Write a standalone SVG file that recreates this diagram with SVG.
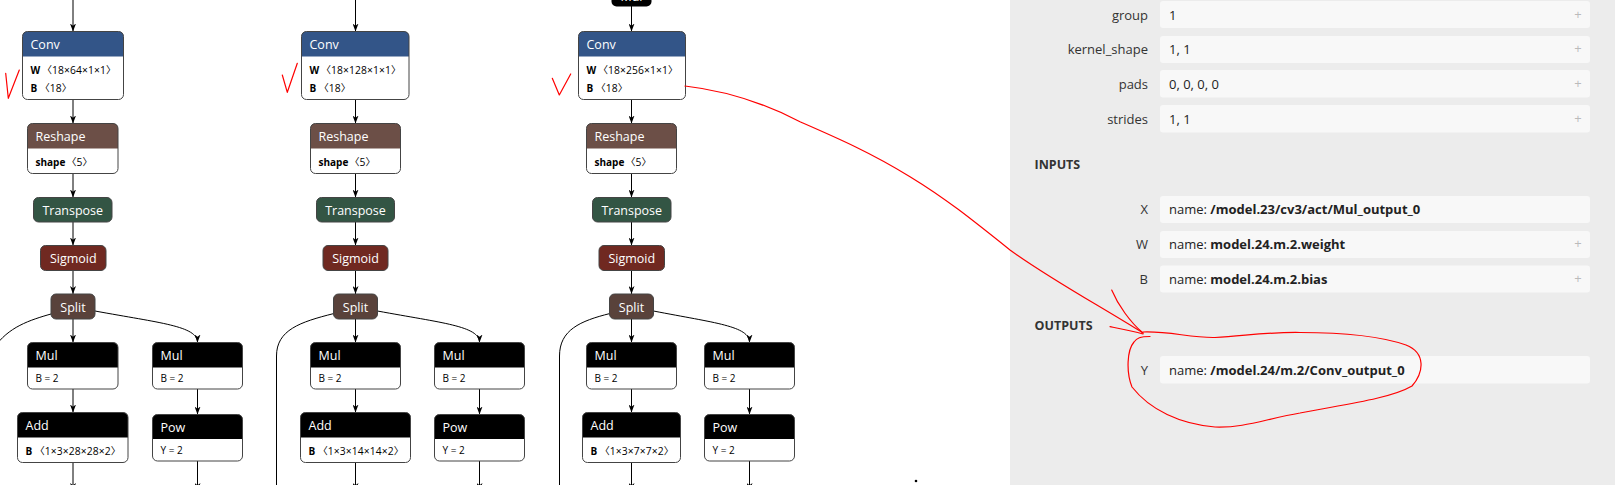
<svg xmlns="http://www.w3.org/2000/svg" width="1615" height="485" viewBox="0 0 1615 485">
<style>
text{font-family:"Open Sans","Noto Sans CJK SC",sans-serif}
.bg{fill:#fff}
.outline{fill:none;stroke:#444;stroke-width:1}
.body{fill:#fff}
.ht{fill:#fff;font-size:12.5px}
.at{fill:#000;font-size:10px}
.an{fill:#000;font-size:10px;font-weight:bold}
.dg{fill:#000;font-size:10.3px}
.br{fill:#000;font-size:10px;font-family:"Noto Sans CJK SC","Noto Sans CJK JP",sans-serif}
.edge{fill:none;stroke:#000;stroke-width:1;marker-end:url(#arr)}
.conv{fill:#335588}
.reshape{fill:#6c4f47}
.transpose{fill:#335544}
.sigmoid{fill:#702921}
.split{fill:#59423b}
.blk{fill:#000}
.panel{fill:#ececec}
.row{fill:#f8f8f8}
.lbl{fill:#333;font-size:13px;text-anchor:end}
.val{fill:#222;font-size:13px}
.val tspan.b{font-weight:bold}
.plus{fill:#bbb;font-size:13px;text-anchor:middle}
.sec{fill:#333;font-size:12.5px;font-weight:bold}
.red{fill:none;stroke:#f00;stroke-width:1.2;stroke-linejoin:round;stroke-linecap:round}
</style>
<defs>
<marker id="arr" viewBox="0 0 8 6" refX="8" refY="3" markerWidth="8" markerHeight="6" markerUnits="userSpaceOnUse" orient="auto">
<path d="M0,0 L8,3 L0,6 L2.2,3 Z" fill="#000"/>
</marker>
</defs>
<rect class="bg" x="0" y="0" width="1615" height="485"/>

<!-- connectors -->
<g id="connectors">
<path class="edge" d="M73,0 V31.5"/>
<path class="edge" d="M73,99.5 V123.5"/>
<path class="edge" d="M73,173.5 V197.5"/>
<path class="edge" d="M73,222 V245.5"/>
<path class="edge" d="M73,270.5 V294"/>
<path class="edge" d="M73,319 V342.5"/>
<path class="edge" d="M73,389 V412.5"/>
<path class="edge" d="M73,462.5 V491"/>
<path class="edge" d="M95,311 C160,323 197.5,326 197.5,342.5"/>
<path class="edge" d="M197.5,389 V414.5"/>
<path class="edge" d="M197.5,461 V491"/>
<path class="edge" style="marker-end:none" d="M51,314 C30,320 8,327 -6,348"/>
<path class="edge" d="M355.5,0 V31.5"/>
<path class="edge" d="M355.5,99.5 V123.5"/>
<path class="edge" d="M355.5,173.5 V197.5"/>
<path class="edge" d="M355.5,222 V245.5"/>
<path class="edge" d="M355.5,270.5 V294"/>
<path class="edge" d="M355.5,319 V342.5"/>
<path class="edge" d="M355.5,389 V412.5"/>
<path class="edge" d="M355.5,462.5 V491"/>
<path class="edge" d="M377.5,311 C442,323 479.5,326 479.5,342.5"/>
<path class="edge" d="M479.5,389 V414.5"/>
<path class="edge" d="M479.5,461 V491"/>
<path class="edge" style="marker-end:none" d="M334,313.5 C300,322 276.5,330 276.5,356 V490"/>
<path class="edge" d="M631.5,6 V31.5"/>
<path class="edge" d="M631.5,99.5 V123.5"/>
<path class="edge" d="M631.5,173.5 V197.5"/>
<path class="edge" d="M631.5,222 V245.5"/>
<path class="edge" d="M631.5,270.5 V294"/>
<path class="edge" d="M631.5,319 V342.5"/>
<path class="edge" d="M631.5,389 V412.5"/>
<path class="edge" d="M631.5,462.5 V491"/>
<path class="edge" d="M653.5,311 C715,323 749.5,326 749.5,342.5"/>
<path class="edge" d="M749.5,389 V414.5"/>
<path class="edge" d="M749.5,461 V491"/>
<path class="edge" style="marker-end:none" d="M610,313.5 C580,321 559.5,330 559.5,356 V490"/>
</g>

<!-- column 1 nodes -->
<g id="conv1">
<rect class="body" x="22.5" y="31.5" width="101" height="68" rx="5"/>
<path class="conv" d="M22.5,56.5 V36.5 Q22.5,31.5 27.5,31.5 H118.5 Q123.5,31.5 123.5,36.5 V56.5 Z"/>
<rect class="outline" x="22.5" y="31.5" width="101" height="68" rx="5"/>
<text class="ht" x="30.5" y="48.5">Conv</text>
<text class="an" x="30.5" y="73.5">W</text>
<text class="br" x="42" y="73.5">〈</text>
<text class="dg" x="52" y="73.5" textLength="54" lengthAdjust="spacing">18×64×1×1</text>
<text class="br" x="106" y="73.5">〉</text>
<text class="an" x="30.5" y="91.5">B</text>
<text class="br" x="39.7" y="91.5">〈</text>
<text class="dg" x="49.7" y="91.5" textLength="12" lengthAdjust="spacing">18</text>
<text class="br" x="61.7" y="91.5">〉</text>
</g>
<g id="reshape1">
<rect class="body" x="27.5" y="123.5" width="90.5" height="50" rx="5"/>
<path class="reshape" d="M27.5,148.5 V128.5 Q27.5,123.5 32.5,123.5 H113 Q118,123.5 118,128.5 V148.5 Z"/>
<rect class="outline" x="27.5" y="123.5" width="90.5" height="50" rx="5"/>
<text class="ht" x="35.5" y="140.5">Reshape</text>
<text class="an" x="35.5" y="166">shape</text>
<text class="br" x="66.5" y="166">〈</text>
<text class="dg" x="76.5" y="166">5</text>
<text class="br" x="82.5" y="166">〉</text>
</g>
<g id="transpose1">
<rect class="transpose" x="33.5" y="197.5" width="78.5" height="24.5" rx="5"/>
<rect class="outline" x="33.5" y="197.5" width="78.5" height="24.5" rx="5"/>
<text class="ht" x="72.75" y="214.5" text-anchor="middle">Transpose</text>
</g>
<g id="sigmoid1">
<rect class="sigmoid" x="40.5" y="245.5" width="65.5" height="25" rx="5"/>
<rect class="outline" x="40.5" y="245.5" width="65.5" height="25" rx="5"/>
<text class="ht" x="73.25" y="262.5" text-anchor="middle">Sigmoid</text>
</g>
<g id="split1">
<rect class="split" x="51" y="294" width="44" height="25" rx="5"/>
<rect class="outline" x="51" y="294" width="44" height="25" rx="5"/>
<text class="ht" x="73" y="311.5" text-anchor="middle">Split</text>
</g>
<g id="mul1a">
<rect class="body" x="27.5" y="342.5" width="90.5" height="46.5" rx="5"/>
<path class="blk" d="M27.5,367.5 V347.5 Q27.5,342.5 32.5,342.5 H113 Q118,342.5 118,347.5 V367.5 Z"/>
<rect class="outline" x="27.5" y="342.5" width="90.5" height="46.5" rx="5"/>
<text class="ht" x="35.5" y="360">Mul</text>
<text class="at" x="35.5" y="381.5">B = 2</text>
</g>
<g id="mul1b">
<rect class="body" x="152.5" y="342.5" width="90" height="46.5" rx="5"/>
<path class="blk" d="M152.5,367.5 V347.5 Q152.5,342.5 157.5,342.5 H237.5 Q242.5,342.5 242.5,347.5 V367.5 Z"/>
<rect class="outline" x="152.5" y="342.5" width="90" height="46.5" rx="5"/>
<text class="ht" x="160.5" y="360">Mul</text>
<text class="at" x="160.5" y="381.5">B = 2</text>
</g>
<g id="add1">
<rect class="body" x="17.5" y="412.5" width="110.5" height="50" rx="5"/>
<path class="blk" d="M17.5,437.5 V417.5 Q17.5,412.5 22.5,412.5 H123 Q128,412.5 128,417.5 V437.5 Z"/>
<rect class="outline" x="17.5" y="412.5" width="110.5" height="50" rx="5"/>
<text class="ht" x="25.5" y="429.5">Add</text>
<text class="an" x="25.5" y="454.5">B</text>
<text class="br" x="34.7" y="454.5">〈</text>
<text class="dg" x="44.7" y="454.5" textLength="66" lengthAdjust="spacing">1×3×28×28×2</text>
<text class="br" x="110.7" y="454.5">〉</text>
</g>
<g id="pow1">
<rect class="body" x="152.5" y="414.5" width="90" height="46.5" rx="5"/>
<path class="blk" d="M152.5,439 V419.5 Q152.5,414.5 157.5,414.5 H237.5 Q242.5,414.5 242.5,419.5 V439 Z"/>
<rect class="outline" x="152.5" y="414.5" width="90" height="46.5" rx="5"/>
<text class="ht" x="160.5" y="431.5">Pow</text>
<text class="at" x="160.5" y="453.5">Y = 2</text>
</g>

<!-- column 2 nodes -->
<g id="conv2">
<rect class="body" x="301.5" y="31.5" width="107.5" height="68" rx="5"/>
<path class="conv" d="M301.5,56.5 V36.5 Q301.5,31.5 306.5,31.5 H404 Q409,31.5 409,36.5 V56.5 Z"/>
<rect class="outline" x="301.5" y="31.5" width="107.5" height="68" rx="5"/>
<text class="ht" x="309.5" y="48.5">Conv</text>
<text class="an" x="309.5" y="73.5">W</text>
<text class="br" x="321" y="73.5">〈</text>
<text class="dg" x="331" y="73.5" textLength="60" lengthAdjust="spacing">18×128×1×1</text>
<text class="br" x="391" y="73.5">〉</text>
<text class="an" x="309.5" y="91.5">B</text>
<text class="br" x="318.7" y="91.5">〈</text>
<text class="dg" x="328.7" y="91.5" textLength="12" lengthAdjust="spacing">18</text>
<text class="br" x="340.7" y="91.5">〉</text>
</g>
<g id="reshape2">
<rect class="body" x="310.5" y="123.5" width="90" height="50" rx="5"/>
<path class="reshape" d="M310.5,148.5 V128.5 Q310.5,123.5 315.5,123.5 H395.5 Q400.5,123.5 400.5,128.5 V148.5 Z"/>
<rect class="outline" x="310.5" y="123.5" width="90" height="50" rx="5"/>
<text class="ht" x="318.5" y="140.5">Reshape</text>
<text class="an" x="318.5" y="166">shape</text>
<text class="br" x="349.5" y="166">〈</text>
<text class="dg" x="359.5" y="166">5</text>
<text class="br" x="365.5" y="166">〉</text>
</g>
<g id="transpose2">
<rect class="transpose" x="316.5" y="197.5" width="78" height="24.5" rx="5"/>
<rect class="outline" x="316.5" y="197.5" width="78" height="24.5" rx="5"/>
<text class="ht" x="355.5" y="214.5" text-anchor="middle">Transpose</text>
</g>
<g id="sigmoid2">
<rect class="sigmoid" x="323" y="245.5" width="65" height="25" rx="5"/>
<rect class="outline" x="323" y="245.5" width="65" height="25" rx="5"/>
<text class="ht" x="355.5" y="262.5" text-anchor="middle">Sigmoid</text>
</g>
<g id="split2">
<rect class="split" x="333.5" y="294" width="44" height="25" rx="5"/>
<rect class="outline" x="333.5" y="294" width="44" height="25" rx="5"/>
<text class="ht" x="355.5" y="311.5" text-anchor="middle">Split</text>
</g>
<g id="mul2a">
<rect class="body" x="310.5" y="342.5" width="90" height="46.5" rx="5"/>
<path class="blk" d="M310.5,367.5 V347.5 Q310.5,342.5 315.5,342.5 H395.5 Q400.5,342.5 400.5,347.5 V367.5 Z"/>
<rect class="outline" x="310.5" y="342.5" width="90" height="46.5" rx="5"/>
<text class="ht" x="318.5" y="360">Mul</text>
<text class="at" x="318.5" y="381.5">B = 2</text>
</g>
<g id="mul2b">
<rect class="body" x="434.5" y="342.5" width="90" height="46.5" rx="5"/>
<path class="blk" d="M434.5,367.5 V347.5 Q434.5,342.5 439.5,342.5 H519.5 Q524.5,342.5 524.5,347.5 V367.5 Z"/>
<rect class="outline" x="434.5" y="342.5" width="90" height="46.5" rx="5"/>
<text class="ht" x="442.5" y="360">Mul</text>
<text class="at" x="442.5" y="381.5">B = 2</text>
</g>
<g id="add2">
<rect class="body" x="300.5" y="412.5" width="110" height="50" rx="5"/>
<path class="blk" d="M300.5,437.5 V417.5 Q300.5,412.5 305.5,412.5 H405.5 Q410.5,412.5 410.5,417.5 V437.5 Z"/>
<rect class="outline" x="300.5" y="412.5" width="110" height="50" rx="5"/>
<text class="ht" x="308.5" y="429.5">Add</text>
<text class="an" x="308.5" y="454.5">B</text>
<text class="br" x="317.7" y="454.5">〈</text>
<text class="dg" x="327.7" y="454.5" textLength="66" lengthAdjust="spacing">1×3×14×14×2</text>
<text class="br" x="393.7" y="454.5">〉</text>
</g>
<g id="pow2">
<rect class="body" x="434.5" y="414.5" width="90" height="46.5" rx="5"/>
<path class="blk" d="M434.5,439 V419.5 Q434.5,414.5 439.5,414.5 H519.5 Q524.5,414.5 524.5,419.5 V439 Z"/>
<rect class="outline" x="434.5" y="414.5" width="90" height="46.5" rx="5"/>
<text class="ht" x="442.5" y="431.5">Pow</text>
<text class="at" x="442.5" y="453.5">Y = 2</text>
</g>

<!-- column 3 nodes -->
<g id="mul3top">
<rect class="blk" x="611.5" y="-20" width="40" height="26.5" rx="5"/>
<text class="ht" x="631.5" y="0.5" text-anchor="middle">Mul</text>
</g>
<g id="conv3">
<rect class="body" x="578.5" y="31.5" width="107" height="68" rx="5"/>
<path class="conv" d="M578.5,56.5 V36.5 Q578.5,31.5 583.5,31.5 H680.5 Q685.5,31.5 685.5,36.5 V56.5 Z"/>
<rect class="outline" x="578.5" y="31.5" width="107" height="68" rx="5"/>
<text class="ht" x="586.5" y="48.5">Conv</text>
<text class="an" x="586.5" y="73.5">W</text>
<text class="br" x="598" y="73.5">〈</text>
<text class="dg" x="608" y="73.5" textLength="60" lengthAdjust="spacing">18×256×1×1</text>
<text class="br" x="668" y="73.5">〉</text>
<text class="an" x="586.5" y="91.5">B</text>
<text class="br" x="595.7" y="91.5">〈</text>
<text class="dg" x="605.7" y="91.5" textLength="12" lengthAdjust="spacing">18</text>
<text class="br" x="617.7" y="91.5">〉</text>
</g>
<g id="reshape3">
<rect class="body" x="586.5" y="123.5" width="90" height="50" rx="5"/>
<path class="reshape" d="M586.5,148.5 V128.5 Q586.5,123.5 591.5,123.5 H671.5 Q676.5,123.5 676.5,128.5 V148.5 Z"/>
<rect class="outline" x="586.5" y="123.5" width="90" height="50" rx="5"/>
<text class="ht" x="594.5" y="140.5">Reshape</text>
<text class="an" x="594.5" y="166">shape</text>
<text class="br" x="625.5" y="166">〈</text>
<text class="dg" x="635.5" y="166">5</text>
<text class="br" x="641.5" y="166">〉</text>
</g>
<g id="transpose3">
<rect class="transpose" x="592.5" y="197.5" width="78.5" height="24.5" rx="5"/>
<rect class="outline" x="592.5" y="197.5" width="78.5" height="24.5" rx="5"/>
<text class="ht" x="631.75" y="214.5" text-anchor="middle">Transpose</text>
</g>
<g id="sigmoid3">
<rect class="sigmoid" x="599" y="245.5" width="65.5" height="25" rx="5"/>
<rect class="outline" x="599" y="245.5" width="65.5" height="25" rx="5"/>
<text class="ht" x="631.75" y="262.5" text-anchor="middle">Sigmoid</text>
</g>
<g id="split3">
<rect class="split" x="609.5" y="294" width="44" height="25" rx="5"/>
<rect class="outline" x="609.5" y="294" width="44" height="25" rx="5"/>
<text class="ht" x="631.5" y="311.5" text-anchor="middle">Split</text>
</g>
<g id="mul3a">
<rect class="body" x="586.5" y="342.5" width="90" height="46.5" rx="5"/>
<path class="blk" d="M586.5,367.5 V347.5 Q586.5,342.5 591.5,342.5 H671.5 Q676.5,342.5 676.5,347.5 V367.5 Z"/>
<rect class="outline" x="586.5" y="342.5" width="90" height="46.5" rx="5"/>
<text class="ht" x="594.5" y="360">Mul</text>
<text class="at" x="594.5" y="381.5">B = 2</text>
</g>
<g id="mul3b">
<rect class="body" x="704.5" y="342.5" width="90" height="46.5" rx="5"/>
<path class="blk" d="M704.5,367.5 V347.5 Q704.5,342.5 709.5,342.5 H789.5 Q794.5,342.5 794.5,347.5 V367.5 Z"/>
<rect class="outline" x="704.5" y="342.5" width="90" height="46.5" rx="5"/>
<text class="ht" x="712.5" y="360">Mul</text>
<text class="at" x="712.5" y="381.5">B = 2</text>
</g>
<g id="add3">
<rect class="body" x="582.5" y="412.5" width="98" height="50" rx="5"/>
<path class="blk" d="M582.5,437.5 V417.5 Q582.5,412.5 587.5,412.5 H675.5 Q680.5,412.5 680.5,417.5 V437.5 Z"/>
<rect class="outline" x="582.5" y="412.5" width="98" height="50" rx="5"/>
<text class="ht" x="590.5" y="429.5">Add</text>
<text class="an" x="590.5" y="454.5">B</text>
<text class="br" x="599.7" y="454.5">〈</text>
<text class="dg" x="609.7" y="454.5" textLength="54" lengthAdjust="spacing">1×3×7×7×2</text>
<text class="br" x="663.7" y="454.5">〉</text>
</g>
<g id="pow3">
<rect class="body" x="704.5" y="414.5" width="90" height="46.5" rx="5"/>
<path class="blk" d="M704.5,439 V419.5 Q704.5,414.5 709.5,414.5 H789.5 Q794.5,414.5 794.5,419.5 V439 Z"/>
<rect class="outline" x="704.5" y="414.5" width="90" height="46.5" rx="5"/>
<text class="ht" x="712.5" y="431.5">Pow</text>
<text class="at" x="712.5" y="453.5">Y = 2</text>
</g>

<circle cx="916" cy="481" r="1.3" fill="#000"/>

<!-- properties panel -->
<g id="panel">
<rect class="panel" x="1010" y="0" width="605" height="485"/>
<rect class="row" x="1160" y="1" width="430" height="27" rx="3"/>
<text class="lbl" x="1148" y="19.5">group</text>
<text class="val" x="1169" y="19.5">1</text>
<text class="plus" x="1578" y="18.5">+</text>
<rect class="row" x="1160" y="36" width="430" height="27" rx="3"/>
<text class="lbl" x="1148" y="54">kernel_shape</text>
<text class="val" x="1169" y="54">1, 1</text>
<text class="plus" x="1578" y="53">+</text>
<rect class="row" x="1160" y="70" width="430" height="27.5" rx="3"/>
<text class="lbl" x="1148" y="88.5">pads</text>
<text class="val" x="1169" y="88.5">0, 0, 0, 0</text>
<text class="plus" x="1578" y="87.5">+</text>
<rect class="row" x="1160" y="105" width="430" height="27.5" rx="3"/>
<text class="lbl" x="1148" y="123.5">strides</text>
<text class="val" x="1169" y="123.5">1, 1</text>
<text class="plus" x="1578" y="122.5">+</text>
<text class="sec" x="1034.5" y="169">INPUTS</text>
<rect class="row" x="1160" y="196" width="430" height="27" rx="3"/>
<text class="lbl" x="1148" y="214">X</text>
<text class="val" x="1169" y="214">name: <tspan class="b">/model.23/cv3/act/Mul_output_0</tspan></text>
<rect class="row" x="1160" y="231" width="430" height="27" rx="3"/>
<text class="lbl" x="1148" y="249">W</text>
<text class="val" x="1169" y="249">name: <tspan class="b">model.24.m.2.weight</tspan></text>
<text class="plus" x="1578" y="248">+</text>
<rect class="row" x="1160" y="265.5" width="430" height="27" rx="3"/>
<text class="lbl" x="1148" y="283.5">B</text>
<text class="val" x="1169" y="283.5">name: <tspan class="b">model.24.m.2.bias</tspan></text>
<text class="plus" x="1578" y="282.5">+</text>
<text class="sec" x="1034.5" y="329.5">OUTPUTS</text>
<rect class="row" x="1160" y="356" width="430" height="27.5" rx="3"/>
<text class="lbl" x="1148" y="374.5">Y</text>
<text class="val" x="1169" y="374.5">name: <tspan class="b">/model.24/m.2/Conv_output_0</tspan></text>
</g>

<!-- red annotations -->
<g id="annotations">
<polyline class="red" points="5.7,73.3 8.3,98.3 19.3,70"/>
<polyline class="red" points="282.3,75 287.3,92.3 297.3,63.3"/>
<polyline class="red" points="552.3,78.3 559.3,95 570.7,74"/>
<path class="red" d="M685,86 C720,90 760,101 800,121.7 C835,137 870,152 910,176.7 C945,198 970,218 1010,250 C1050,279 1100,306 1143,333"/>
<path class="red" d="M1111.7,290 C1118,305 1130,322 1143,333"/>
<path class="red" d="M1110,326.7 C1122,329 1133,331 1143,334"/>
<path class="red" d="M1143,332 C1170,331 1190,338 1215,337.5 C1245,336 1265,332 1300,332.5 C1340,332.5 1380,336 1406,345 C1426,353 1424,372 1412,386 C1390,399 1340,405 1300,413 C1265,419 1245,428 1215,427 C1180,424 1150,410 1132,387 C1126,372 1127,350 1134,342 C1137,338 1140,336.5 1150,336.5"/>
</g>
</svg>
